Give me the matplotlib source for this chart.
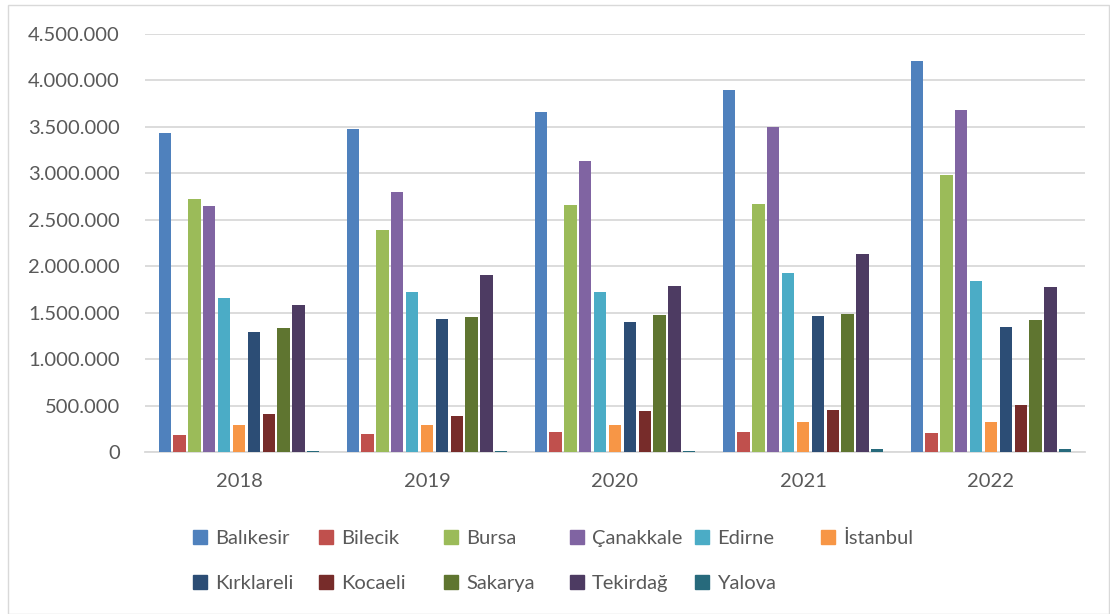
import numpy as np
import matplotlib.pyplot as plt
from matplotlib.patches import Rectangle
from matplotlib.ticker import FuncFormatter, MultipleLocator

plt.rcParams['font.family'] = ['Lato', 'DejaVu Sans']

# data
years = ['2018', '2019', '2020', '2021', '2022']
provinces = ['Balıkesir', 'Bilecik', 'Bursa', 'Çanakkale', 'Edirne', 'İstanbul',
             'Kırklareli', 'Kocaeli', 'Sakarya', 'Tekirdağ', 'Yalova']

balikesir = [3436000, 3475000, 3655000, 3900000, 4212000]
bilecik = [180000, 190000, 219000, 216000, 208000]
bursa = [2720000, 2390000, 2656000, 2667000, 2983000]
canakkale = [2645000, 2796000, 3137000, 3500000, 3680000]
edirne = [1657000, 1722000, 1725000, 1926000, 1840000]
istanbul = [288000, 290000, 290000, 323000, 320000]
kirklareli = [1287000, 1437000, 1400000, 1466000, 1351000]
kocaeli = [413000, 385000, 438000, 453000, 503000]
sakarya = [1340000, 1455000, 1480000, 1488000, 1423000]
tekirdag = [1581000, 1908000, 1790000, 2131000, 1772000]
yalova = [15000, 12000, 12000, 29000, 32000]

series = [balikesir, bilecik, bursa, canakkale, edirne, istanbul,
          kirklareli, kocaeli, sakarya, tekirdag, yalova]
colors = ['#4F81BD', '#C0504D', '#9BBB59', '#8064A2', '#4BACC6', '#F79646',
          '#2C4D75', '#772C2A', '#5F7530', '#4D3B62', '#276A7C']

txt = '#595959'
fs = 14.5

fig = plt.figure(figsize=(11.1, 6.14), dpi=100)
ax = fig.add_axes([145 / 1110, 1 - 452 / 614, 940 / 1110, 418 / 614])

x = np.arange(len(years))
pitch = 0.079
bw = 0.065
for j, (vals, c) in enumerate(zip(series, colors)):
    ax.bar(x + (j - 5) * pitch, vals, width=bw, color=c, linewidth=0, zorder=3)

ax.set_xlim(-0.5, 4.5)
ax.set_ylim(0, 4500000)
ax.yaxis.set_major_locator(MultipleLocator(500000))
ax.yaxis.set_major_formatter(FuncFormatter(lambda v, p: f"{int(v):,}".replace(",", ".")))
ax.grid(axis='y', color='#d9d9d9', linewidth=1.3, zorder=0)
ax.set_xticks(x)
ax.set_xticklabels(years)
ax.tick_params(axis='both', length=0, labelsize=fs, labelcolor=txt)
ax.tick_params(axis='y', pad=18)
ax.tick_params(axis='x', pad=15)
for s in ['top', 'right', 'left']:
    ax.spines[s].set_visible(False)
ax.spines['bottom'].set_color('#d9d9d9')
ax.spines['bottom'].set_linewidth(1.3)

# legend: six equal-width columns, two rows
handles = [Rectangle((0, 0), 1, 1, color=c) for c in colors]
col_x = [193, 319, 444, 570, 695, 821]
for k, cx in enumerate(col_x):
    idx = list(range(k, len(provinces), 6))
    leg = fig.legend([handles[i] for i in idx], [provinces[i] for i in idx],
                     loc='upper left', bbox_to_anchor=(cx / 1110, 1 - 530 / 614),
                     frameon=False, fontsize=fs, handlelength=0.7, handleheight=0.7,
                     handletextpad=0.4, labelspacing=1.4, borderpad=0, borderaxespad=0)
    for t in leg.get_texts():
        t.set_color(txt)

# outer chart border
fig.patches.append(Rectangle((8 / 1110, 0.5 / 614), 1101 / 1110, 609 / 614,
                             transform=fig.transFigure, fill=False,
                             edgecolor='#d9d9d9', linewidth=1))

fig.savefig('out.png', dpi=100)
